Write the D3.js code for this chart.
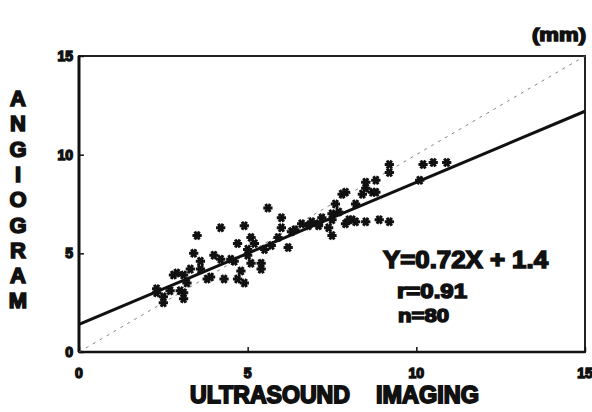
<!DOCTYPE html>
<html>
<head>
<meta charset="utf-8">
<script src="https://cdn.jsdelivr.net/npm/d3@7"></script>
<style>
  body { margin: 0; background: #fff; }
  text { font-family: "Liberation Sans", Arial, sans-serif; font-weight: bold; fill: #111; }
</style>
</head>
<body>
<div id="chart"></div>
<script>
// ultrasound (x) vs angiogram (y), mm
const usX = [2.3,2.3,2.5,2.5,2.8,2.9,3.0,3.1,3.1,3.2,3.1,3.4,3.6,3.5,3.9,3.8,4.2,4.2,4.3,4.6,
  4.7,4.9,4.7,4.9,5.0,5.1,5.2,5.4,5.4,5.6,6.0,6.0,6.2,5.9,5.7,5.5,6.6,6.9,6.8,7.1,
  7.2,7.4,7.5,7.5,7.7,7.5,7.9,8.0,8.1,8.2,8.5,8.9,9.2,7.8,7.9,8.4,8.5,8.5,8.7,8.8,
  8.8,9.2,9.2,10.1,10.2,10.5,10.9,4.0,4.5,5.0,6.3,6.4,7.1,5.1,3.6,2.7,3.3,4.8,8.2,7.6];
const angY = [3.2,3.0,2.8,2.5,3.9,4.0,3.1,2.7,3.9,3.5,3.0,5.0,4.6,5.9,3.8,3.7,4.7,6.3,3.7,4.6,
  3.7,3.5,5.5,6.4,4.9,5.8,5.5,4.5,4.2,7.3,6.8,6.3,5.3,5.8,5.4,5.2,6.5,6.6,6.4,6.5,
  6.8,6.3,7.0,6.7,7.1,5.9,6.5,6.7,6.7,6.6,6.6,6.7,6.6,8.0,8.1,8.0,8.6,8.3,8.1,8.7,
  8.1,9.5,9.1,8.7,9.5,9.6,9.6,4.9,4.7,5.2,6.1,6.2,6.4,4.5,4.2,3.1,4.2,4.1,7.5,7.5];
const xTicks = [0, 5, 10, 15];
const yTicks = [0, 5, 10, 15];
const slope = 0.72, intercept = 1.4;
const statLines = ["Y=0.72X + 1.4", "r=0.91", "n=80"];
const yTitle = "ANGIOGRAM";
const xTitle = ["ULTRASOUND", "IMAGING"];

const width = 592, height = 412;
const margin = {top: 56, right: 7, bottom: 60, left: 79};

let svg = d3.select("#chart")
    .append("svg")
    .attr("width", width)
    .attr("height", height);

let x = d3.scaleLinear().domain([0, 15]).range([margin.left, width - margin.right]);
let y = d3.scaleLinear().domain([0, 15]).range([height - margin.bottom, margin.top]);

// frame
svg.append("rect")
    .attr("x", x(0)).attr("y", y(15))
    .attr("width", x(15) - x(0)).attr("height", y(0) - y(15))
    .attr("fill", "none").attr("stroke", "#222").attr("stroke-width", 2);
svg.append("line")
    .attr("x1", x(0)).attr("x2", x(0)).attr("y1", y(15)).attr("y2", y(0))
    .attr("stroke", "#111").attr("stroke-width", 3);
svg.append("line")
    .attr("x1", x(0)).attr("x2", x(15)).attr("y1", y(0)).attr("y2", y(0))
    .attr("stroke", "#111").attr("stroke-width", 2.5);

// inward ticks + labels
svg.append("g")
    .attr("transform", `translate(0, ${y(0)})`)
    .call(d3.axisTop(x).tickValues(xTicks).tickSize(5).tickFormat(""))
    .call(g => g.select(".domain").remove())
    .call(g => g.selectAll("line").attr("stroke", "#111").attr("stroke-width", 1.5));
svg.append("g")
    .attr("transform", `translate(${x(0)}, 0)`)
    .call(d3.axisRight(y).tickValues(yTicks).tickSize(5).tickFormat(""))
    .call(g => g.select(".domain").remove())
    .call(g => g.selectAll("line").attr("stroke", "#111").attr("stroke-width", 1.5));

svg.selectAll(".xl").data(xTicks).enter()
    .append("text")
    .attr("x", d => x(d)).attr("y", y(0) + 26)
    .style("text-anchor", "middle").style("font-size", "14px")
    .attr("stroke", "#111").attr("stroke-width", 1.4)
    .text(d => d);
svg.selectAll(".yl").data(yTicks).enter()
    .append("text")
    .attr("x", x(0) - 6).attr("y", d => y(d) + 5)
    .style("text-anchor", "end").style("font-size", "14px")
    .attr("stroke", "#111").attr("stroke-width", 1.4)
    .text(d => d);

// identity line (dashed)
svg.append("line")
    .attr("x1", x(0)).attr("y1", y(0)).attr("x2", x(15)).attr("y2", y(15))
    .attr("stroke", "#666").attr("stroke-width", 0.8)
    .attr("stroke-dasharray", "3,5");

// regression line
svg.append("line")
    .attr("x1", x(0)).attr("y1", y(intercept))
    .attr("x2", x(15)).attr("y2", y(intercept + slope * 15))
    .attr("stroke", "#111").attr("stroke-width", 3);

// points
let pts = usX.map((v, i) => ({x: v, y: angY[i]}));
svg.selectAll(".pt").data(pts).enter()
    .append("path")
    .attr("d", d3.symbol(d3.symbolAsterisk, 60))
    .attr("transform", d => `translate(${x(d.x)}, ${y(d.y)}) rotate(90)`)
    .attr("fill", "none").attr("stroke", "#111").attr("stroke-width", 3);

// stats
let stats = [
  {t: statLines[0], x: 383, y: 268, w: 165, fs: 23},
  {t: statLines[1], x: 397, y: 298, w: 70, fs: 20},
  {t: statLines[2], x: 398, y: 322, w: 51, fs: 19}
];
svg.selectAll(".st").data(stats).enter()
    .append("text")
    .attr("x", d => d.x).attr("y", d => d.y)
    .style("font-size", d => d.fs + "px")
    .attr("stroke", "#111").attr("stroke-width", 1.5)
    .attr("textLength", d => d.w)
    .attr("lengthAdjust", "spacingAndGlyphs")
    .text(d => d.t);

// unit
svg.append("text")
    .attr("x", 586).attr("y", 41)
    .style("text-anchor", "end").style("font-size", "18px")
    .attr("stroke", "#111").attr("stroke-width", 1.4)
    .attr("textLength", 54)
    .attr("lengthAdjust", "spacingAndGlyphs")
    .text("(mm)");

// axis titles
let xt = [{t: xTitle[0], x: 190, w: 160}, {t: xTitle[1], x: 376, w: 103}];
svg.selectAll(".xt").data(xt).enter()
    .append("text")
    .attr("x", d => d.x).attr("y", 403)
    .style("font-size", "24px")
    .attr("stroke", "#111").attr("stroke-width", 1.8)
    .attr("textLength", d => d.w)
    .attr("lengthAdjust", "spacingAndGlyphs")
    .text(d => d.t);

svg.selectAll(".yt").data(yTitle.split("")).enter()
    .append("text")
    .attr("x", 18).attr("y", (d, i) => 106 + i * 25.3)
    .style("text-anchor", "middle").style("font-size", "22px")
    .attr("stroke", "#111").attr("stroke-width", 1.6)
    .text(d => d);
</script>
</body>
</html>
